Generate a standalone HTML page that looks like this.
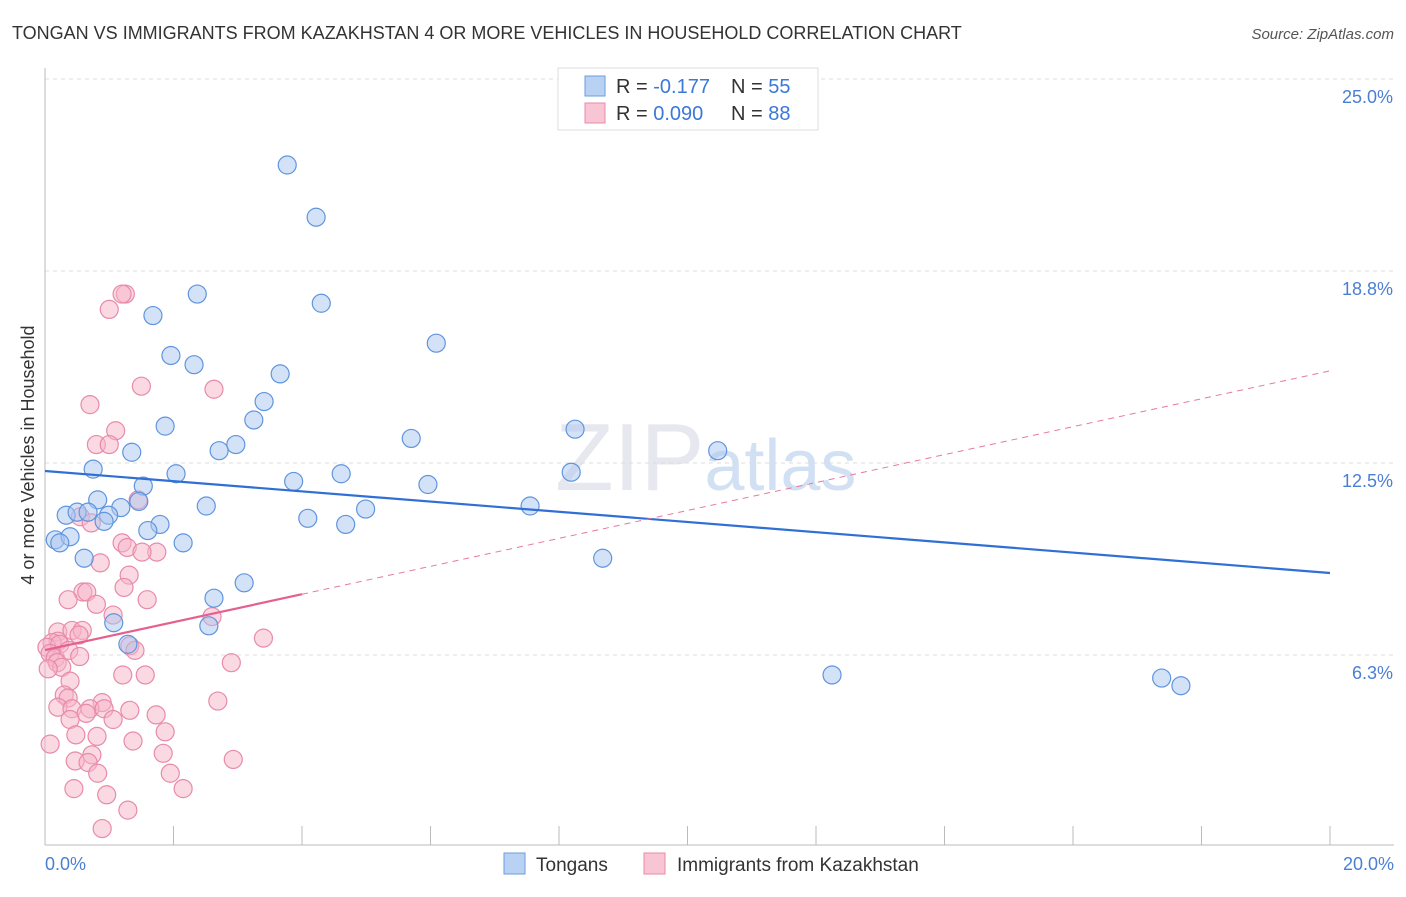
<!DOCTYPE html>
<html><head><meta charset="utf-8"><style>
body{margin:0;background:#fff;font-family:"Liberation Sans",sans-serif}
svg text{font-family:"Liberation Sans",sans-serif}
</style></head><body>
<svg id="chart" width="1406" height="892" xmlns="http://www.w3.org/2000/svg">
<text x="12" y="39" font-size="18" fill="#333">TONGAN VS IMMIGRANTS FROM KAZAKHSTAN 4 OR MORE VEHICLES IN HOUSEHOLD CORRELATION CHART</text>
<text x="1394" y="39" font-size="15" fill="#555" font-style="italic" text-anchor="end">Source: ZipAtlas.com</text>
<text x="555" y="490" font-size="96" fill="#ccd" opacity="0.45" font-family="Liberation Serif">ZIP<tspan fill="#9bbbe6" font-family="Liberation Sans" font-size="72">atlas</tspan></text>
<g id="grid"></g>
<g id="axes"></g>
<g id="marks"></g>
<text transform="translate(34,455) rotate(-90)" font-size="18" fill="#333" text-anchor="middle">4 or more Vehicles in Household</text>
<text x="45" y="870" font-size="18" fill="#4a7fd4">0.0%</text>
<text x="1394" y="870" font-size="18" fill="#4a7fd4" text-anchor="end">20.0%</text>
<g>
<rect x="558" y="68" width="260" height="62" fill="#fff" stroke="#ddd"/>
<rect x="585" y="76" width="20" height="20" fill="#b9d1f3" stroke="#6a9ee0"/>
<text x="616" y="93" font-size="20" fill="#333">R = <tspan fill="#3b78d8">-0.177</tspan></text>
<text x="731" y="93" font-size="20" fill="#333">N = <tspan fill="#3b78d8">55</tspan></text>
<rect x="585" y="103" width="20" height="20" fill="#f8c5d5" stroke="#e88aab"/>
<text x="616" y="120" font-size="20" fill="#333">R = <tspan fill="#3b78d8">0.090</tspan></text>
<text x="731" y="120" font-size="20" fill="#333">N = <tspan fill="#3b78d8">88</tspan></text>
</g>
<g>
<rect x="504" y="853" width="21" height="21" fill="#b9d1f3" stroke="#6a9ee0"/>
<text x="536" y="871" font-size="19" fill="#333">Tongans</text>
<rect x="644" y="853" width="21" height="21" fill="#f8c5d5" stroke="#e88aab"/>
<text x="677" y="871" font-size="19" fill="#333">Immigrants from Kazakhstan</text>
</g>
</svg>
<script>
const yTicks=[6.25,12.5,18.75,25];
const yTickLabels=["6.3%","12.5%","18.8%","25.0%"];
const blueX=[3.77,4.22,2.37,4.30,1.68,6.09,1.96,2.32,3.66,3.41,3.25,1.87,5.70,8.25,2.97,2.71,1.35,10.47,0.75,2.04,3.87,4.61,8.19,5.96,1.53,0.82,1.46,4.99,2.51,1.18,0.33,0.50,0.67,7.55,0.99,0.92,4.09,4.68,1.79,1.60,0.16,0.39,0.23,2.15,0.61,8.68,3.10,2.63,1.07,2.55,1.29,12.25,17.38,17.68];
const blueY=[22.2,20.5,18.0,17.7,17.3,16.4,16.0,15.7,15.4,14.5,13.9,13.7,13.3,13.6,13.1,12.9,12.85,12.9,12.3,12.15,11.9,12.15,12.2,11.8,11.75,11.3,11.25,11.0,11.1,11.05,10.8,10.9,10.9,11.1,10.8,10.6,10.7,10.5,10.5,10.3,10.0,10.1,9.9,9.9,9.4,9.4,8.6,8.1,7.3,7.2,6.6,5.6,5.5,5.25];
const pinkX=[1.25,1.2,1.0,1.5,2.63,0.7,1.1,0.8,1.0,1.45,0.55,0.72,1.2,1.28,1.74,1.51,0.86,1.31,1.23,0.59,0.65,0.36,0.8,1.59,1.06,2.6,0.2,0.42,0.58,0.53,3.4,0.2,0.11,0.03,0.23,0.08,0.16,1.32,1.4,0.37,0.54,0.19,0.26,0.05,2.9,1.21,1.56,0.39,0.3,0.36,2.69,0.89,0.2,0.7,0.42,0.64,0.92,1.32,1.06,1.73,0.39,1.87,0.48,0.81,0.08,1.37,1.84,0.73,2.93,0.47,0.67,0.82,1.95,0.45,2.15,0.96,1.29,0.89];
const pinkY=[18.0,18.0,17.5,15.0,14.9,14.4,13.55,13.1,13.1,11.3,10.75,10.55,9.9,9.75,9.6,9.6,9.25,8.85,8.45,8.3,8.3,8.05,7.9,8.05,7.55,7.5,7.0,7.05,7.05,6.9,6.8,6.7,6.65,6.5,6.6,6.3,6.15,6.55,6.4,6.4,6.2,6.0,5.85,5.8,6.0,5.6,5.6,5.4,4.95,4.85,4.75,4.7,4.55,4.5,4.5,4.35,4.5,4.45,4.15,4.3,4.15,3.75,3.65,3.6,3.35,3.45,3.05,3.0,2.85,2.8,2.75,2.4,2.4,1.9,1.9,1.7,1.2,0.6];
const blueTrend=[12.24,8.92];
const pinkTrend=[6.41,15.5];
const X0=45,X1=1330,Y0=847,PPU=192/6.25;
const sx=v=>X0+v/20*(X1-X0), sy=v=>Y0-v*PPU;
const NS="http://www.w3.org/2000/svg";
function mk(t,a,p){const e=document.createElementNS(NS,t);for(const k in a)e.setAttribute(k,a[k]);p.appendChild(e);return e;}
const grid=document.getElementById('grid'),axes=document.getElementById('axes'),marks=document.getElementById('marks');
yTicks.forEach((v,i)=>{
 const l=mk('line',{x1:X0,x2:1394,y1:sy(v),y2:sy(v),stroke:'#ddd','stroke-dasharray':'4,4'},grid);
 
 
 const t=mk('text',{x:1393,y:sy(v)+24,'font-size':18,fill:'#4a7fd4','text-anchor':'end'},grid);
 t.textContent=yTickLabels[i];
 
 
});
const ya=mk('line',{x1:X0,x2:X0,y1:68,y2:845,stroke:'#bbb'},axes);


const xa=mk('line',{x1:X0,x2:1394,y1:845,y2:845,stroke:'#bbb'},axes);


for(let i=1;i<=10;i++){
 const tk=mk('line',{x1:sx(i*2),x2:sx(i*2),y1:826,y2:845,stroke:'#bbb'},axes);
 
 
}
pinkX.forEach((x,i)=>{
 const c=mk('circle',{cx:sx(x),cy:sy(pinkY[i]),r:9,fill:'#f5b3c8','fill-opacity':0.5,stroke:'#e88aab','stroke-width':1.2},marks);
 
 
});
blueX.forEach((x,i)=>{
 const c=mk('circle',{cx:sx(x),cy:sy(blueY[i]),r:9,fill:'#a9c6ef','fill-opacity':0.5,stroke:'#5f95de','stroke-width':1.2},marks);
 
 
});
const bt=mk('line',{x1:sx(0),y1:sy(blueTrend[0]),x2:sx(20),y2:sy(blueTrend[1]),stroke:'#2f6fd6','stroke-width':2.2},marks);


const pAt=x=>pinkTrend[0]+(pinkTrend[1]-pinkTrend[0])*x/20;
const pd=mk('line',{x1:sx(4),y1:sy(pAt(4)),x2:sx(20),y2:sy(pAt(20)),stroke:'#e6799f','stroke-width':1,'stroke-dasharray':'6,5'},marks);


const ps=mk('line',{x1:sx(0),y1:sy(pAt(0)),x2:sx(4),y2:sy(pAt(4)),stroke:'#e4608e','stroke-width':2.2},marks);


</script>
</body></html>
